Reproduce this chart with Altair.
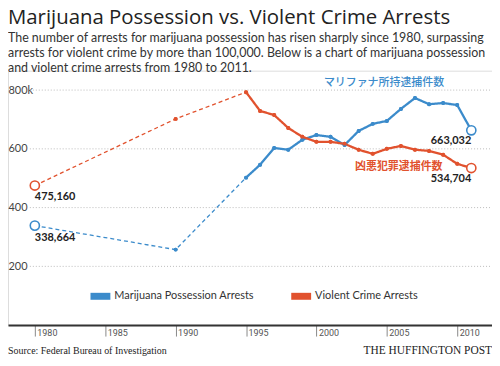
import altair as alt
import pandas as pd

years = [1980, 1990, 1995, 1996, 1997, 1998, 1999, 2000, 2001, 2002,
         2003, 2004, 2005, 2006, 2007, 2008, 2009, 2010, 2011]
marijuana = [338.664, 257, 502, 546, 603, 597, 631, 647, 641, 613,
             661, 685, 695, 736, 773, 752, 756, 749, 663.032]
violent = [475.160, 702, 793, 729, 715, 671, 641, 624, 624, 617,
           597, 583, 600, 610, 597, 593, 580, 549, 534.704]
series_names = ["Marijuana Possession Arrests", "Violent Crime Arrests"]
series_colors = ["#3b8bcb", "#e1522e"]
dashed_until = 1995
grid_values = [200, 400, 600, 800]
x_ticks = [1980, 1985, 1990, 1995, 2000, 2005, 2010]
ann_texts = ["マリファナ所持逮捕件数", "凶悪犯罪逮捕件数"]
ann_years = [2004.8, 2005.85]
ann_values = [825, 537]

title = "Marijuana Possession vs. Violent Crime Arrests"
subtitle = [
    "The number of arrests for marijuana possession has risen sharply since 1980, surpassing",
    "arrests for violent crime by more than 100,000. Below is a chart of marijuana possession",
    "and violent crime arrests from 1980 to 2011.",
]
source = "Source: Federal Bureau of Investigation"
brand = "THE HUFFINGTON POST"

rows = []
pts = []
for name, vals in zip(series_names, [marijuana, violent]):
    for y, v in zip(years, vals):
        if y <= dashed_until:
            rows.append({"year": y, "value": v, "series": name, "seg": "dashed"})
        if y >= dashed_until:
            rows.append({"year": y, "value": v, "series": name, "seg": "solid"})
        pts.append({"year": y, "value": v, "series": name,
                    "label": f"{int(round(v * 1000)):,}"})
lines_df = pd.DataFrame(rows)
pts_df = pd.DataFrame(pts)
first_year, last_year = years[0], years[-1]
ends_df = pts_df[pts_df.year.isin([first_year, last_year])]
mids_df = pts_df[~pts_df.year.isin([first_year, last_year])]

W, H = 487, 256
xs = alt.Scale(domain=[1978.094, 2012.47], nice=False, zero=False)
ys = alt.Scale(domain=[0, 866], nice=False, zero=False)
cs = alt.Scale(domain=series_names, range=series_colors)

x_axis = alt.Axis(
    values=x_ticks, format="d", title=None, grid=False,
    domain=True, domainColor="#333", domainWidth=2,
    ticks=True, tickSize=11, tickColor="#888", tickWidth=1,
    labelAlign="left", labelBaseline="top", labelPadding=-8, labelOffset=2,
    labelFont="Roboto", labelFontSize=9, labelColor="#555", labelFlush=False)
y_axis = alt.Axis(
    values=grid_values, title=None, grid=False, domain=False, ticks=False,
    labelAlign="left", labelBaseline="middle", labelPadding=0, tickSize=0,
    labelFont="Lato", labelFontSize=11, labelColor="#444",
    labelExpr="datum.value == 800 ? '800k' : datum.label")
X = alt.X("year:Q", scale=xs, axis=x_axis)
Y = alt.Y("value:Q", scale=ys, axis=y_axis)

legend = alt.Legend(
    orient="none", legendX=83, legendY=217, direction="horizontal", title=None,
    symbolType="M-1,-0.35H1V0.35H-1Z", symbolSize=400, symbolStrokeWidth=0,
    symbolOpacity=1,
    labelFont="Lato", labelFontSize=11, labelColor="#333", columnPadding=37,
    labelOffset=4)
C = alt.Color("series:N", scale=cs, legend=legend)

grid = alt.Chart(pd.DataFrame({"value": grid_values})).mark_rule(
    color="#bbbbbb", strokeDash=[1, 2], strokeWidth=1
).encode(x=alt.value(22), x2=alt.value(W), y=Y)

mids = alt.Chart(mids_df).mark_circle(size=16, opacity=1).encode(
    x=X, y=Y, color=C)

lines = alt.Chart(lines_df).mark_line().encode(
    x=X, y=Y,
    color=alt.Color("series:N", scale=cs),
    strokeDash=alt.StrokeDash("seg:N", scale=alt.Scale(domain=["dashed", "solid"], range=[[4, 3], [1, 0]]), legend=None),
    strokeWidth=alt.StrokeWidth("seg:N", scale=alt.Scale(domain=["dashed", "solid"], range=[1.3, 2.3]), legend=None),
)

mids_top = alt.Chart(mids_df).mark_circle(size=16, opacity=1).encode(
    x=X, y=Y, color=alt.Color("series:N", scale=cs))

ends = alt.Chart(ends_df).mark_point(filled=False, fill="white", fillOpacity=1, size=85,
                                     strokeWidth=1.6, opacity=1).encode(
    x=X, y=Y, color=alt.Color("series:N", scale=cs))

lab_left = alt.Chart(ends_df[ends_df.year == first_year]).mark_text(
    align="left", baseline="middle", dy=12, font="Lato", fontWeight="bold",
    fontSize=11, color="#222").encode(x=X, y=Y, text="label:N")
lab_right = alt.Chart(ends_df[ends_df.year == last_year]).mark_text(
    align="right", baseline="middle", dy=11, dx=0, font="Lato", fontWeight="bold",
    fontSize=11, color="#222").encode(x=X, y=Y, text="label:N")

ann_df = pd.DataFrame({"t": ann_texts, "year": ann_years, "value": ann_values,
                       "col": series_colors})
ann1 = alt.Chart(ann_df.iloc[[0]]).mark_text(
    align="center", baseline="middle", font="Noto Sans CJK JP", fontSize=11,
    fontWeight=500).encode(
    x=X, y=Y, text="t:N", color=alt.Color("col:N", scale=None))
ann2 = alt.Chart(ann_df.iloc[[1]]).mark_text(
    align="center", baseline="middle", font="Noto Sans CJK JP", fontSize=11,
    fontWeight="bold").encode(
    x=X, y=Y, text="t:N", color=alt.Color("col:N", scale=None))

foot_src = alt.Chart(pd.DataFrame({"t": [source]})).mark_text(
    align="left", baseline="alphabetic", font="Liberation Serif", fontSize=10,
    color="#222").encode(x=alt.value(0), y=alt.value(H + 29), text="t:N")
foot_brand = alt.Chart(pd.DataFrame({"t": [brand]})).mark_text(
    align="right", baseline="alphabetic", font="Liberation Serif", fontSize=11.5,
    color="#222").encode(x=alt.value(W), y=alt.value(H + 29), text="t:N")

chart = alt.layer(grid, mids, lines, mids_top, ends, lab_left, lab_right, ann1, ann2,
                  foot_src, foot_brand).properties(
    width=W, height=H,
    padding={"left": 0, "top": 62, "right": 0, "bottom": 32},
    autosize=alt.AutoSizeParams(type="none"),
    title=alt.TitleParams(
        text=title, subtitle=subtitle, anchor="start", frame="group",
        font="Open Sans", fontSize=20.5, fontWeight="normal", color="#222",
        subtitleFont="Lato", subtitleFontSize=12.5, subtitleColor="#333",
        subtitleLineHeight=15, subtitlePadding=4, offset=-4),
).configure_view(stroke=None).configure(background="white")

chart.save("out.html", embed_options={"renderer": "svg", "actions": False})
